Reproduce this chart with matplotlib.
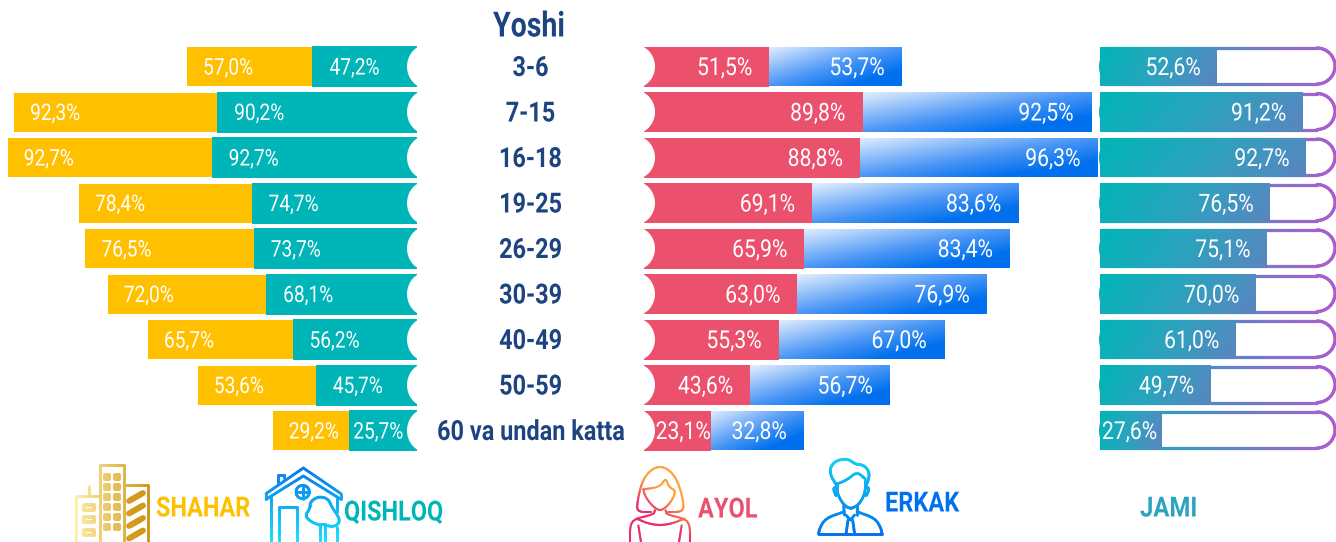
import numpy as np
import matplotlib
matplotlib.use("Agg")
import matplotlib.pyplot as plt
from matplotlib.collections import LineCollection
from matplotlib.colors import LinearSegmentedColormap
from matplotlib.patches import Ellipse
from matplotlib.patheffects import AbstractPathEffect
from matplotlib.transforms import Affine2D

# ---------- data ----------
age_groups = ["3-6", "7-15", "16-18", "19-25", "26-29", "30-39", "40-49", "50-59", "60 va undan katta"]
shahar = [57.0, 92.3, 92.7, 78.4, 76.5, 72.0, 65.7, 53.6, 29.2]
qishloq = [47.2, 90.2, 92.7, 74.7, 73.7, 68.1, 56.2, 45.7, 25.7]
ayol = [51.5, 89.8, 88.8, 69.1, 65.9, 63.0, 55.3, 43.6, 23.1]
erkak = [53.7, 92.5, 96.3, 83.6, 83.4, 76.9, 67.0, 56.7, 32.8]
jami = [52.6, 91.2, 92.7, 76.5, 75.1, 70.0, 61.0, 49.7, 27.6]
title = "Yoshi"

# the source stretches its last row a little
stretch_outer = np.array([1, 1, 1, 1, 1, 1, 1, 1, 1.19])
stretch_erkak = np.array([1, 1, 1, 1, 1, 1, 1, 1, 1.15])

plt.rcParams["font.family"] = ["Roboto", "DejaVu Sans"]

W, H = 1336, 542
fig = plt.figure(figsize=(W / 100, H / 100), dpi=100)
ax = fig.add_axes([0, 0, 1, 1])

YELLOW, TEAL, RED, NAVY, BLUE = "#FFC000", "#00B5B8", "#EB506C", "#1C4480", "#0070EE"
rows = 66.5 + 45.5 * np.arange(len(age_groups))


class Squeeze(AbstractPathEffect):
    """Condense real text horizontally about its anchor (no condensed face is installed)."""

    def __init__(self, sx, cx):
        self.sx, self.cx = sx, cx

    def draw_path(self, renderer, gc, tpath, affine, rgbFace=None):
        squeeze = Affine2D().translate(-self.cx, 0).scale(self.sx, 1).translate(self.cx, 0)
        renderer.draw_path(gc, tpath, affine + squeeze, rgbFace)


def label(x, y, s, sx, **kw):
    return ax.text(x, y, s, path_effects=[Squeeze(sx, x)], zorder=8, va="center", **kw)


def grad_lines(polys, c0, c1, box, lw, direction=(0, 1), z=6):
    """Stroke polylines with a colour that runs along `direction` across `box`."""
    cm = LinearSegmentedColormap.from_list("g", [c0, c1])
    x0, y0, x1, y1 = box
    d = np.array(direction, float)
    segs, cols = [], []
    for p in polys:
        p = np.asarray(p, float)
        for a, b in zip(p[:-1], p[1:]):
            n = max(1, int(np.hypot(*(b - a)) / 2))
            ts = np.linspace(0, 1, n + 1)
            pts = a + np.outer(ts, b - a)
            for q, r in zip(pts[:-1], pts[1:]):
                m = (q + r) / 2
                t = ((m[0] - x0) / (x1 - x0)) * d[0] + ((m[1] - y0) / (y1 - y0)) * d[1]
                segs.append([q, r])
                cols.append(cm(np.clip(t / d.sum(), 0, 1)))
    ax.add_collection(LineCollection(segs, colors=cols, linewidths=lw, capstyle="round", zorder=z))


def smooth(pts, n=3):
    p = np.asarray(pts, float)
    for _ in range(n):
        q = [p[0]]
        for a, b in zip(p[:-1], p[1:]):
            q += [0.75 * a + 0.25 * b, 0.25 * a + 0.75 * b]
        q.append(p[-1])
        p = np.array(q)
    return p


def gradient_fill(bars, cmap, mode, z):
    for b in bars:
        x, y, w, h = b.get_x(), b.get_y(), b.get_width(), b.get_height()
        n = 64
        xx, yy = np.meshgrid(np.linspace(0, 1, n), np.linspace(0, 1, n))
        if mode == "diag":
            g = 0.5 * xx + 0.5 * yy
        else:
            g = np.clip(0.85 * xx + 0.15 * yy, 0, 1)
        im = ax.imshow(g, extent=(x, x + w, y + h, y), cmap=cmap, vmin=0, vmax=1,
                       aspect="auto", zorder=z, interpolation="bilinear")
        im.set_clip_path(b)


# ---------- left pair ----------
teal_w = np.array(qishloq) * 2.215 * stretch_outer
yel_w = np.array(shahar) * 2.2 * stretch_outer
teal_left = 417 - teal_w
ax.barh(rows, teal_w, left=teal_left, height=41, color=TEAL, zorder=3)
ax.barh(rows, yel_w, left=teal_left - yel_w, height=39, color=YELLOW, zorder=2)
for y in rows:
    ax.add_patch(Ellipse((427, y), 40, 44, fc="white", ec="none", zorder=4))

# ---------- right pair ----------
red_w = np.array(ayol) * 2.435 * stretch_outer
blue_w = np.array(erkak) * 2.465 * stretch_erkak
ax.barh(rows, red_w, left=644, height=40, color=RED, zorder=3)
blue = ax.barh(rows, blue_w, left=644 + red_w, height=40, color="none", zorder=2)
blue_cm = LinearSegmentedColormap.from_list(
    "b", [(0, "#E2EEFF"), (0.5, "#4A96F5"), (0.8, "#0070EE"), (1, "#0070EE")])
gradient_fill(blue, blue_cm, "diag", 2)
for y in rows:
    ax.add_patch(Ellipse((634, y), 42, 44, fc="white", ec="none", zorder=4))

# ---------- total with track ----------
jami_w = np.array(jami) * 2.22
for y in rows:
    ax.add_patch(Ellipse((1112, y), 26, 38, fc=TEAL, ec="none", zorder=1))
    r = 18
    top, bot = y - 18.5, y + 17.5
    th = np.linspace(-np.pi / 2, np.pi / 2, 40)
    arc = np.c_[1335 - r + r * np.cos(th), (top + bot) / 2 + (bot - top) / 2 * np.sin(th)]
    track = np.vstack([[1104, top], arc, [1104, bot]])
    grad_lines([track], TEAL, "#AE5CD0", (1100, 0, 1336, 1), 2.3, direction=(1, 0), z=1)
jb = ax.barh(rows, jami_w, left=1100, height=40, color="none", zorder=3)
jami_cm = LinearSegmentedColormap.from_list("j", [TEAL, "#2BA3BE", "#5B85C0"])
gradient_fill(jb, jami_cm, "h", 3)

# ---------- value labels ----------
fmt = lambda v: f"{v:.1f}".replace(".", ",") + "%"
LEFT = dict(color="white", fontsize=16.5)
RIGHT = dict(color="white", fontsize=17.8)
SX_L, SX_R = 0.835, 0.855
for i, y in enumerate(rows):
    last = i == len(rows) - 1
    label(teal_left[i] - yel_w[i] + 16, y + 1.5, fmt(shahar[i]), SX_L, ha="left", **LEFT)
    label(teal_left[i] + (4 if last else 17), y + 1.5, fmt(qishloq[i]), SX_L, ha="left", **LEFT)
    label(644 + red_w[i] - (0 if last else 17), y + 1.5, fmt(ayol[i]), SX_R, ha="right", **RIGHT)
    label(644 + red_w[i] + blue_w[i] - 17, y + 1.5, fmt(erkak[i]), SX_R, ha="right", **RIGHT)
    label(1100 + jami_w[i] - (4 if last else 16), y + 1.5, fmt(jami[i]), SX_R, ha="right", **RIGHT)
    label(530.5, y + 2, age_groups[i], 0.845, color=NAVY, fontsize=20, fontweight="bold", ha="center")
label(529, 27, title, 0.82, color=NAVY, fontsize=25, fontweight="bold", ha="center")

# ---------- legend words ----------
LEG = dict(fontsize=20, fontweight="bold", ha="left")
label(156, 509, "SHAHAR", 0.845, color=YELLOW, **LEG)
label(344, 513, "QISHLOQ", 0.845, color=TEAL, **LEG)
label(698, 510, "AYOL", 0.85, color=RED, **LEG)
label(885, 504, "ERKAK", 0.85, color=BLUE, **LEG)
label(1140, 509, "JAMI", 0.86, color="#2BA5BF", **LEG)


# ---------- icons ----------
def crop(pts, ox, oy):
    return np.asarray(pts, float) / 3 + [ox, oy]


def rect(x0, y0, x1, y1):
    return [[x0, y0], [x1, y0], [x1, y1], [x0, y1], [x0, y0]]


# buildings
bb = (76, 465, 149, 542)
polys = [rect(76, 496, 100, 543), [[89, 486], [89, 496]], rect(100, 465, 124, 543), rect(124, 485, 148, 543)]
grad_lines(polys, "#FFEDA8", "#CF9618", bb, 2.0, direction=(1, 0))
wins = []
for wy in (505, 517, 530):
    wins.append(rect(84, wy, 94, wy + 5))
for wy in (475, 485, 495, 505, 515, 525):
    wins.append(rect(105, wy, 109, wy + 4))
    wins.append(rect(115, wy, 119, wy + 4))
grad_lines(wins, "#FFEDA8", "#CF9618", bb, 2.6, direction=(1, 0))
slats = [[[129, 501 + k * 12.5], [143, 493 + k * 12.5]] for k in range(4)]
grad_lines(slats, "#E5B23A", "#CF9618", bb, 4.2, direction=(1, 0))

# house
ox, oy = 260, 462
hb = (265, 468, 345, 542)
tree = smooth([(180, 190), (150, 178), (135, 160), (150, 140), (150, 120), (175, 103),
               (205, 110), (215, 135), (243, 175), (225, 195), (195, 190)], 3)
polys = [crop(p, ox, oy) for p in [
    [(18, 95), (130, 18), (243, 95), (243, 112), (130, 42), (18, 112), (18, 95)],
    [(55, 62), (55, 38), (73, 38), (73, 48)],
    [(32, 105), (32, 240)], [(232, 108), (232, 150)], [(232, 195), (232, 240)],
    [(57, 240), (57, 135), (112, 135), (112, 240)],
    [(108, 90), (148, 90)], [(128, 70), (128, 110)],
    [(180, 240), (180, 185), (195, 185), (195, 240)],
]] + [crop(tree, ox, oy)]
th = np.linspace(0, 2 * np.pi, 40)
polys.append(crop(np.c_[128 + 20 * np.cos(th), 90 + 20 * np.sin(th)], ox, oy))
grad_lines(polys, "#0A78F0", "#12E2F6", hb, 2.0)

# woman
ox, oy = 625, 462
wb = (630, 466, 692, 542)
hair = smooth([(78, 150), (40, 150), (35, 130), (50, 60), (75, 25), (105, 12), (135, 25),
               (160, 60), (178, 130), (170, 150), (130, 150)], 3)
face = smooth([(55, 82), (105, 75), (122, 48), (132, 75), (150, 85), (148, 102),
               (130, 130), (105, 148), (80, 130), (60, 102), (55, 82)], 2)
neckline = smooth([(35, 170), (70, 185), (105, 190), (140, 185), (178, 170)], 3)
lshoulder = smooth([(90, 145), (85, 158), (30, 170), (15, 190), (15, 240)], 2)
rshoulder = smooth([(122, 145), (125, 158), (180, 170), (195, 190), (195, 240)], 2)
polys = [crop(p, ox, oy) for p in [hair, face, neckline, lshoulder, rshoulder,
                                   [(40, 190), (48, 240)], [(170, 190), (162, 240)]]]
grad_lines(polys, "#FFA43C", "#E8306E", wb, 1.5, direction=(-0.6, 1))

# man
ox, oy = 812, 455
mb = (818, 458, 885, 536)
hair = smooth([(72, 88), (55, 60), (55, 35), (75, 15), (110, 12), (130, 28), (155, 30),
               (172, 50), (170, 75), (160, 95)], 3)
fringe = smooth([(72, 88), (105, 75), (135, 50), (160, 72)], 2)
facel = smooth([(75, 85), (75, 115), (95, 150), (115, 162), (140, 150), (160, 115), (160, 75)], 3)
earl = smooth([(75, 95), (63, 100), (72, 122)], 2)
earr = smooth([(160, 95), (173, 100), (163, 122)], 2)
shl = smooth([(20, 238), (22, 222), (40, 190), (97, 170)], 2)
shr = smooth([(135, 170), (190, 190), (208, 222), (210, 238)], 2)
polys = [crop(p, ox, oy) for p in [hair, fringe, facel, earl, earr, shl, shr,
                                   [(95, 150), (97, 180)], [(135, 150), (135, 180)],
                                   [(20, 238), (210, 238)],
                                   [(102, 180), (115, 195), (128, 180)],
                                   [(108, 195), (102, 238)], [(122, 195), (128, 238)]]]
grad_lines(polys, "#12D2F2", "#0070EE", mb, 2.0)

ax.set_xlim(0, W)
ax.set_ylim(H, 0)
ax.axis("off")
fig.savefig("out.png", dpi=100, facecolor="white")
